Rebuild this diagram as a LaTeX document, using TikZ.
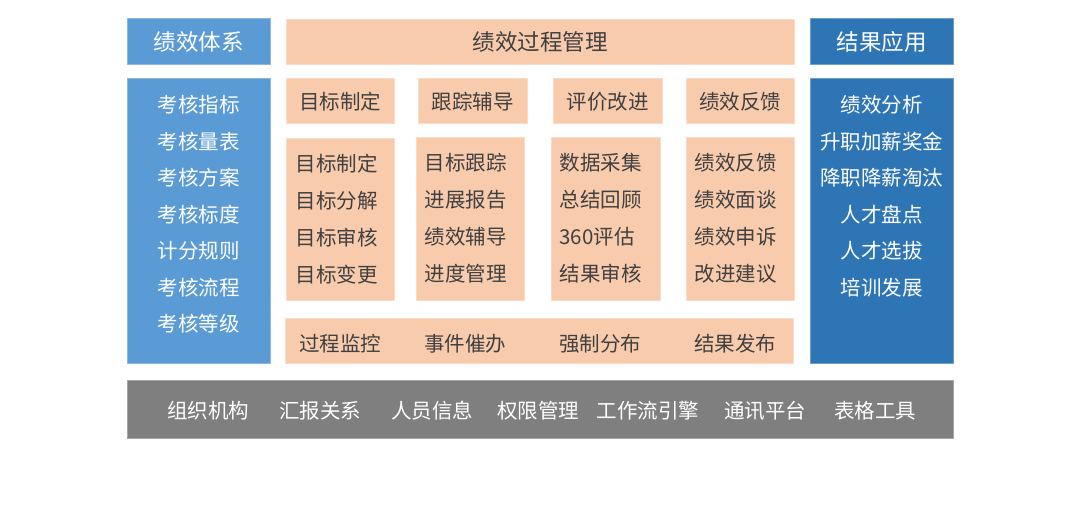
\documentclass[tikz,border=0pt]{standalone}
\usepackage{fontspec}
\setmainfont{Noto Sans CJK SC}
\definecolor{lblue}{HTML}{5B9BD5}
\definecolor{dblue}{HTML}{2E75B6}
\definecolor{peach}{HTML}{F8CBAD}
\definecolor{greybar}{HTML}{7F7F7F}
\definecolor{txt}{HTML}{404040}
\tikzset{
  box/.style={draw=#1!70!white, line width=0.8pt, fill=#1, inner sep=0pt},
  head/.style={font=\fontsize{22.5}{26}\selectfont, anchor=center},
  body/.style={font=\fontsize{20.5}{24}\selectfont, anchor=center},
  wtxt/.style={text=white},
  dtxt/.style={text=txt},
}
\begin{document}
\begin{tikzpicture}[x=1pt,y=-1pt]
\useasboundingbox (0,0) rectangle (1080,510);
% left column
\path[box=lblue] (127,18) rectangle (270,64);
\node[head,wtxt] (lh) at (198.5,42) {绩效体系};
\path[box=lblue] (127,78) rectangle (270,363);
\foreach \t [count=\i] in {考核指标,考核量表,考核方案,考核标度,计分规则,考核流程,考核等级}
  \node[body,wtxt] (l\i) at (198.5,{105+36.5*(\i-1)}) {\t};
% right column
\path[box=dblue] (810,18) rectangle (953,64);
\node[head,wtxt] (rh) at (881.5,42) {结果应用};
\path[box=dblue] (810,78) rectangle (953,363);
\foreach \t [count=\i] in {绩效分析,升职加薪奖金,降职降薪淘汰,人才盘点,人才选拔,培训发展}
  \node[body,wtxt] (r\i) at (881.5,{105+36.5*(\i-1)}) {\t};
% middle header
\path[box=peach] (286,19) rectangle (794,64);
\node[head,dtxt] (mh) at (540,42) {绩效过程管理};
% row 1
\path[box=peach] (286,78) rectangle (394,123);
\node[body,dtxt] (a1) at (340,101.5) {目标制定};
\path[box=peach] (418,78) rectangle (527,123);
\node[body,dtxt] (b1) at (472.5,101.5) {跟踪辅导};
\path[box=peach] (553,78) rectangle (662,123);
\node[body,dtxt] (c1) at (607.5,101.5) {评价改进};
\path[box=peach] (686,78) rectangle (794,123);
\node[body,dtxt] (d1) at (740,101.5) {绩效反馈};
% row 2
\path[box=peach] (286,138) rectangle (394,300);
\path[box=peach] (416,137) rectangle (524,300);
\path[box=peach] (551,137) rectangle (660,300);
\path[box=peach] (686,137) rectangle (794,300);
\foreach \t [count=\i] in {目标制定,目标分解,目标审核,目标变更}
  \node[body,dtxt,anchor=west] (a2\i) at (292,{164+36.8*(\i-1)}) {\t};
\foreach \t [count=\i] in {目标跟踪,进展报告,绩效辅导,进度管理}
  \node[body,dtxt,anchor=west] (b2\i) at (421,{163+36.8*(\i-1)}) {\t};
\foreach \t [count=\i] in {数据采集,总结回顾,360评估,结果审核}
  \node[body,dtxt,anchor=west] (c2\i) at (556,{163+36.8*(\i-1)}) {\t};
\foreach \t [count=\i] in {绩效反馈,绩效面谈,绩效申诉,改进建议}
  \node[body,dtxt,anchor=west] (d2\i) at (691,{163+36.8*(\i-1)}) {\t};
% row 3
\path[box=peach] (285,318) rectangle (793,363);
\node[body,dtxt] (e1) at (340,344) {过程监控};
\node[body,dtxt] (e2) at (465,344) {事件催办};
\node[body,dtxt] (e3) at (600,344) {强制分布};
\node[body,dtxt] (e4) at (735,344) {结果发布};
% bottom bar
\path[box=greybar] (127,380) rectangle (953,438);
\foreach \t/\x [count=\i] in {组织机构/208,汇报关系/320,人员信息/432,权限管理/538,工作流引擎/648,通讯平台/765,表格工具/875}
  \node[body,wtxt] (g\i) at (\x,411) {\t};
\end{tikzpicture}
\end{document}
